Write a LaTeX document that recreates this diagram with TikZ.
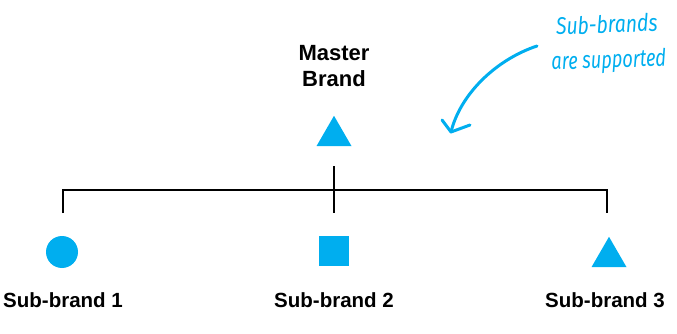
\documentclass[tikz,border=0pt]{standalone}
\usepackage{fontspec}
\setmainfont{Liberation Sans}
\newfontfamily\handfont{Fira Sans}
\usetikzlibrary{shapes.geometric}
\definecolor{brandblue}{HTML}{00AEEF}
\begin{document}
\begin{tikzpicture}[x=1pt,y=-1pt,
  treeline/.style={draw=black,line width=1.5pt},
  tri/.style={fill=brandblue,isosceles triangle,isosceles triangle apex angle=60,shape border rotate=90,inner sep=0pt,minimum height=30pt,minimum width=35pt},
  dot/.style={fill=brandblue,circle,inner sep=0pt,minimum size=32pt},
  sq/.style={fill=brandblue,rectangle,inner sep=0pt,minimum size=30pt},
  lbl/.style={font=\fontsize{20.5}{24}\selectfont\bfseries,inner sep=0pt,anchor=base},
  hand/.style={font=\handfont\itshape\fontsize{24}{28}\selectfont,text=brandblue,inner sep=0pt,anchor=base}
]
\useasboundingbox (0,0) rectangle (677,334);
% master
\node[font=\fontsize{22}{26}\selectfont\bfseries,align=center,inner sep=0pt,anchor=base] (master) at (334,87) {Master\\Brand};
\node[tri] (mtri) at (334,136) {};
% subs
\node[dot] (s1) at (62,252) {};
\node[sq] (s2) at (334,251) {};
\node[tri] (s3) at (609,257) {};
\node[lbl] (l1) at (63,307) {Sub-brand 1};
\node[lbl] (l2) at (334,307) {Sub-brand 2};
\node[lbl] (l3) at (605,307) {Sub-brand 3};
% tree
\coordinate (top) at (334,166);
\coordinate (mid) at (334,190);
\coordinate (b1) at (63,213);
\coordinate (b2) at (334,213);
\coordinate (b3) at (607,213);
\draw[treeline] (b1) |- (mid) -| (b3);
\draw[treeline] (top) -- (b2);
% handwritten note
\node[hand,rotate=2,xscale=0.81] (n1) at (607,33) {Sub-brands};
\node[hand,rotate=2,xscale=0.76] (n2) at (609,68) {are supported};
\coordinate (as) at (537,46);
\coordinate (ae) at (451,132);
\draw[brandblue,line width=3pt,line cap=round] (as) .. controls (495,60) and (460,95) .. (ae);
\draw[brandblue,line width=3pt,line cap=round,line join=round] (442,120) -- (ae) -- (470,125);
\end{tikzpicture}
\end{document}
